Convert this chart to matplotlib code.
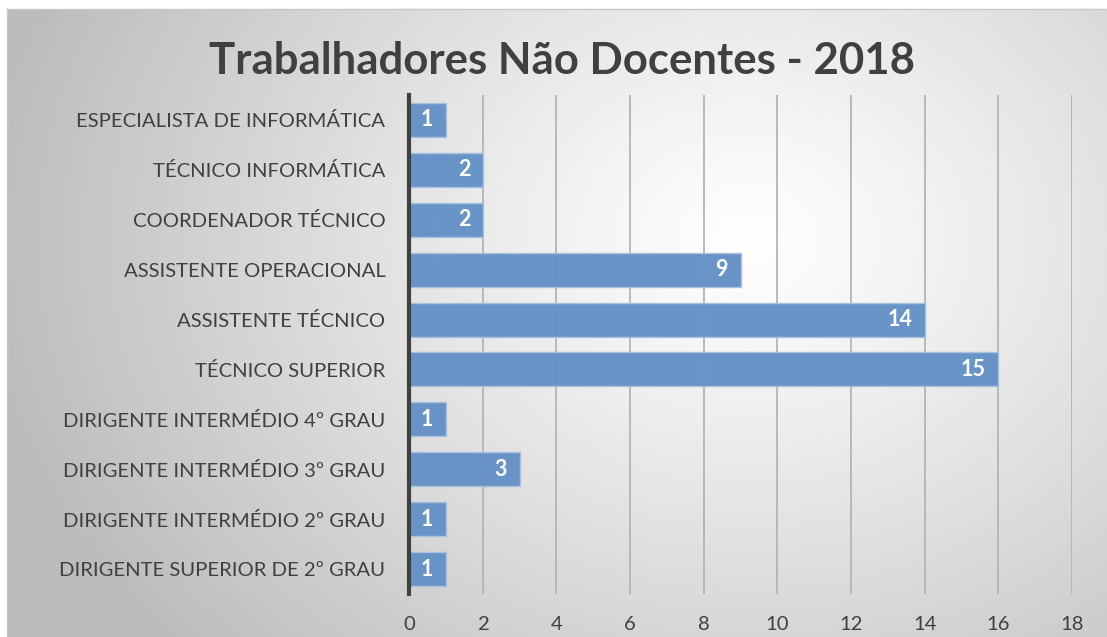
import numpy as np
import matplotlib
matplotlib.use("Agg")
import matplotlib.pyplot as plt

categories = ["ESPECIALISTA DE INFORMÁTICA", "TÉCNICO INFORMÁTICA", "COORDENADOR TÉCNICO",
              "ASSISTENTE OPERACIONAL", "ASSISTENTE TÉCNICO", "TÉCNICO SUPERIOR",
              "DIRIGENTE INTERMÉDIO 4º GRAU", "DIRIGENTE INTERMÉDIO 3º GRAU",
              "DIRIGENTE INTERMÉDIO 2º GRAU", "DIRIGENTE SUPERIOR DE 2º GRAU"]
bar_values = [1, 2, 2, 9, 14, 16, 1, 3, 1, 1]
value_labels = ["1", "2", "2", "9", "14", "15", "1", "3", "1", "1"]
x_ticks = [0, 2, 4, 6, 8, 10, 12, 14, 16, 18]
title = "Trabalhadores Não Docentes - 2018"

FONT = "Lato"
W, H = 1107, 637
fig = plt.figure(figsize=(W / 100, H / 100), dpi=100)
fig.patch.set_facecolor("white")

# background radial gradient
bg = fig.add_axes([7 / W, 0, (W - 7) / W, (H - 9) / H], zorder=0)
bw, bh = 1100, 628
yy, xx = np.mgrid[0:bh, 0:bw]
cx, cy = 740, 230
d = np.sqrt(((xx - cx) / 1.0) ** 2 + ((yy - cy) / 0.8) ** 2)
d = d / 760.0
v = 1.0 - 0.26 * np.clip(d, 0, 1) ** 1.15
img = np.dstack([v, v, v])
bg.imshow(img, aspect="auto", extent=[0, 1, 0, 1], origin="upper")
bg.set_axis_off()
fig.add_artist(plt.Line2D([7 / W, 1], [1 - 9 / H, 1 - 9 / H], color="#c8c8c8", lw=1, transform=fig.transFigure))
fig.add_artist(plt.Line2D([7 / W, 7 / W], [0, 1 - 9 / H], color="#c8c8c8", lw=1, transform=fig.transFigure))

ax = fig.add_axes([409 / W, 1 - 594 / H, (1072 - 409) / W, (594 - 95) / H], zorder=1)
ax.patch.set_alpha(0)
ypos = np.arange(len(categories))
bars = ax.barh(ypos, bar_values, height=0.68, color="#6591c6", edgecolor="#a9c2e2", linewidth=1.0, zorder=3, alpha=0.97)
ax.set_ylim(len(categories) - 0.5, -0.5)
ax.set_xlim(0, 18)
ax.set_xticks(x_ticks)
ax.set_yticks(ypos)
ax.set_yticklabels(categories)
ax.grid(axis="x", color="#b4b4b4", lw=1.3, zorder=0)
ax.set_axisbelow(True)
for s in ["top", "right", "bottom"]:
    ax.spines[s].set_visible(False)
ax.spines["left"].set_color("#404040")
ax.spines["left"].set_linewidth(3)
ax.spines["left"].set_zorder(5)
ax.tick_params(axis="both", length=0, labelsize=14.6, labelcolor="#404040")
ax.tick_params(axis="y", pad=17)
ax.tick_params(axis="x", pad=16)
for lab in ax.get_xticklabels() + ax.get_yticklabels():
    lab.set_fontfamily(FONT)

for b, lbl in zip(bars, value_labels):
    ax.annotate(lbl, (b.get_width(), b.get_y() + b.get_height() / 2), xytext=(-9, 0),
                textcoords="offset points", ha="right", va="center", color="white",
                fontsize=15.5, fontweight="bold", fontfamily=FONT, zorder=6)

fig.text(562 / W, 1 - 61 / H, title, ha="center", va="center", fontsize=31.5,
         fontweight="bold", color="#404040", fontfamily=FONT)

fig.savefig("out.png", dpi=100)
